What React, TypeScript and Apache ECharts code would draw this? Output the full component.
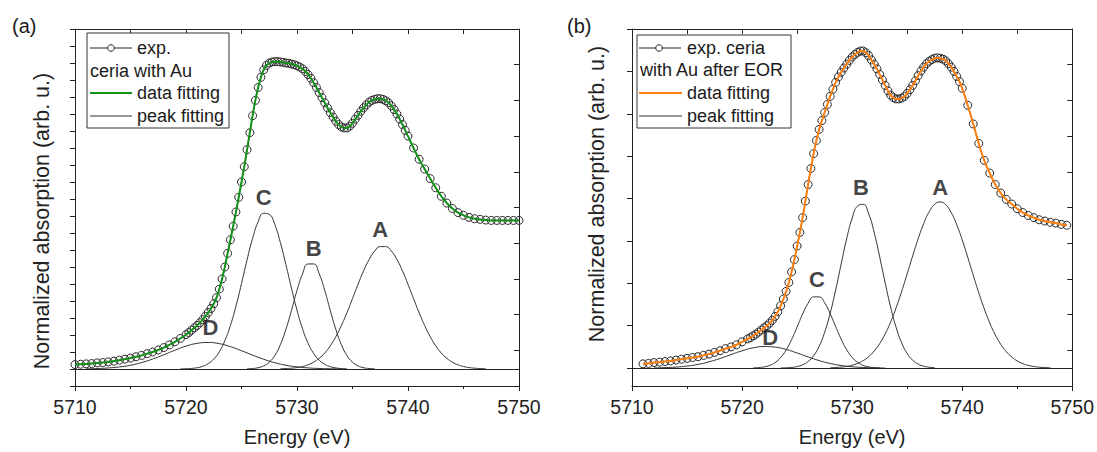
import React, { useEffect, useRef } from "react";
import * as echarts from "echarts";

// ---------- DATA (energy in eV, absorption in arbitrary units) ----------
const xTicksMajor = [5710, 5720, 5730, 5740, 5750];

// Panel (a): ceria with Au
const expA: [number, number][] = [
  [5710, 0.13], [5710.5, 0.14], [5711, 0.15], [5711.5, 0.16], [5712, 0.18], [5712.5, 0.19],
  [5713, 0.21], [5713.5, 0.23], [5714, 0.26], [5714.5, 0.29], [5715, 0.32], [5715.5, 0.36],
  [5716, 0.4], [5716.5, 0.45], [5717, 0.5], [5717.5, 0.56], [5718, 0.63], [5718.5, 0.71],
  [5719, 0.8], [5719.5, 0.9], [5720, 1.01], [5720.25, 1.07], [5720.5, 1.14], [5720.75, 1.21],
  [5721, 1.28], [5721.25, 1.36], [5721.5, 1.45], [5721.75, 1.55], [5722, 1.66], [5722.25, 1.78],
  [5722.5, 1.92], [5722.75, 2.1], [5723, 2.35], [5723.25, 2.65], [5723.5, 3.0], [5723.75, 3.4],
  [5724, 3.8], [5724.25, 4.2], [5724.5, 4.62], [5724.75, 5.05], [5725, 5.5], [5725.25, 5.95],
  [5725.5, 6.45], [5725.75, 6.95], [5726, 7.45], [5726.25, 7.9], [5726.5, 8.28], [5726.75, 8.58],
  [5727, 8.8], [5727.25, 8.93], [5727.5, 9.0], [5727.75, 9.03], [5728, 9.04], [5728.25, 9.04],
  [5728.5, 9.03], [5728.75, 9.02], [5729, 9.0], [5729.25, 8.99], [5729.5, 8.97], [5729.75, 8.95],
  [5730, 8.92], [5730.25, 8.88], [5730.5, 8.83], [5730.75, 8.75], [5731, 8.66], [5731.25, 8.55],
  [5731.5, 8.42], [5731.75, 8.28], [5732, 8.13], [5732.25, 7.98], [5732.5, 7.83], [5732.75, 7.68],
  [5733, 7.54], [5733.25, 7.41], [5733.5, 7.29], [5733.75, 7.19], [5734, 7.12], [5734.25, 7.09],
  [5734.5, 7.09], [5734.75, 7.14], [5735, 7.23], [5735.25, 7.35], [5735.5, 7.46], [5735.75, 7.58],
  [5736, 7.68], [5736.25, 7.77], [5736.5, 7.85], [5736.75, 7.9], [5737, 7.93], [5737.25, 7.95],
  [5737.5, 7.95], [5737.75, 7.93], [5738, 7.89], [5738.25, 7.83], [5738.5, 7.74], [5738.75, 7.63],
  [5739, 7.5], [5739.25, 7.35], [5739.5, 7.19], [5739.75, 7.02], [5740, 6.85], [5740.5, 6.5],
  [5741, 6.17], [5741.5, 5.88], [5742, 5.6], [5742.5, 5.33], [5743, 5.08], [5743.5, 4.88],
  [5744, 4.72], [5744.5, 4.6], [5745, 4.52], [5745.5, 4.46], [5746, 4.42], [5746.5, 4.4],
  [5747, 4.38], [5747.5, 4.37], [5748, 4.37], [5748.5, 4.37], [5749, 4.37], [5749.5, 4.37], [5750, 4.37],
];
const fitA = expA;
const peakDA: [number, number][] = [
  [5711, 0.006], [5712, 0.014], [5713, 0.031], [5714, 0.061], [5715, 0.112], [5716, 0.189],
  [5717, 0.293], [5718, 0.419], [5719, 0.553], [5720, 0.673], [5721, 0.754], [5722, 0.78],
  [5723, 0.745], [5724, 0.658], [5725, 0.538], [5726, 0.408], [5727, 0.286], [5728, 0.185],
  [5729, 0.111], [5730, 0.062], [5731, 0.032], [5732, 0.015], [5733, 0.007], [5734, 0.003],
];
const peakCA: [number, number][] = [
  [5719.5, 0.003], [5720, 0.007], [5720.5, 0.017], [5721, 0.038], [5721.5, 0.079], [5722, 0.157],
  [5722.5, 0.291], [5723, 0.507], [5723.5, 0.831], [5724, 1.279], [5724.5, 1.85], [5725, 2.51],
  [5725.5, 3.21], [5726, 3.84], [5726.5, 4.33], [5727, 4.58], [5727.5, 4.55], [5728, 4.25],
  [5728.5, 3.72], [5729, 3.07], [5729.5, 2.38], [5730, 1.73], [5730.5, 1.18], [5731, 0.757],
  [5731.5, 0.456], [5732, 0.258], [5732.5, 0.137], [5733, 0.069], [5733.5, 0.032], [5734, 0.014], [5734.5, 0.006],
];
const peakBA: [number, number][] = [
  [5725.5, 0.005], [5726, 0.014], [5726.5, 0.038], [5727, 0.092], [5727.5, 0.201], [5728, 0.398],
  [5728.5, 0.714], [5729, 1.164], [5729.5, 1.72], [5730, 2.31], [5730.5, 2.8], [5731, 3.09],
  [5731.5, 3.09], [5732, 2.8], [5732.5, 2.31], [5733, 1.72], [5733.5, 1.164], [5734, 0.714],
  [5734.5, 0.398], [5735, 0.201], [5735.5, 0.092], [5736, 0.038], [5736.5, 0.014], [5737, 0.005],
];
const peakAA: [number, number][] = [
  [5728.5, 0.006], [5729, 0.013], [5729.5, 0.024], [5730, 0.043], [5730.5, 0.074], [5731, 0.124],
  [5731.5, 0.201], [5732, 0.314], [5732.5, 0.471], [5733, 0.682], [5733.5, 0.952], [5734, 1.279],
  [5734.5, 1.658], [5735, 2.07], [5735.5, 2.49], [5736, 2.89], [5736.5, 3.22], [5737, 3.47],
  [5737.5, 3.6], [5738, 3.6], [5738.5, 3.47], [5739, 3.22], [5739.5, 2.89], [5740, 2.49],
  [5740.5, 2.07], [5741, 1.658], [5741.5, 1.279], [5742, 0.952], [5742.5, 0.682], [5743, 0.471],
  [5743.5, 0.314], [5744, 0.201], [5744.5, 0.124], [5745, 0.074], [5745.5, 0.043], [5746, 0.024],
  [5746.5, 0.013], [5747, 0.006],
];
const peakLabelsA: [number, number, string][] = [
  [5737.5, 4.1, "A"], [5731.5, 3.54, "B"], [5727.0, 5.03, "C"], [5722.2, 1.22, "D"],
];

// Panel (b): ceria with Au after EOR
const expB: [number, number][] = [
  [5711, 0.1], [5711.5, 0.11], [5712, 0.13], [5712.5, 0.14], [5713, 0.155], [5713.5, 0.17],
  [5714, 0.19], [5714.5, 0.21], [5715, 0.23], [5715.5, 0.25], [5716, 0.27], [5716.5, 0.3],
  [5717, 0.33], [5717.5, 0.37], [5718, 0.41], [5718.5, 0.46], [5719, 0.5], [5719.5, 0.55],
  [5720, 0.62], [5720.5, 0.69], [5720.75, 0.72], [5721, 0.76], [5721.25, 0.8], [5721.5, 0.85],
  [5721.75, 0.9], [5722, 0.95], [5722.25, 1.0], [5722.5, 1.06], [5722.75, 1.13], [5723, 1.22],
  [5723.25, 1.33], [5723.5, 1.47], [5723.75, 1.63], [5724, 1.81], [5724.25, 2.02], [5724.5, 2.27],
  [5724.75, 2.56], [5725, 2.88], [5725.25, 3.2], [5725.5, 3.55], [5725.75, 3.94], [5726, 4.33],
  [5726.25, 4.71], [5726.5, 5.06], [5726.75, 5.37], [5727, 5.63], [5727.25, 5.84], [5727.5, 6.03],
  [5727.75, 6.22], [5728, 6.41], [5728.25, 6.58], [5728.5, 6.74], [5728.75, 6.87], [5729, 6.98],
  [5729.25, 7.08], [5729.5, 7.17], [5729.75, 7.26], [5730, 7.34], [5730.25, 7.4], [5730.5, 7.45],
  [5730.75, 7.48], [5731, 7.48], [5731.25, 7.44], [5731.5, 7.37], [5731.75, 7.27], [5732, 7.17],
  [5732.25, 7.06], [5732.5, 6.93], [5732.75, 6.8], [5733, 6.67], [5733.25, 6.54], [5733.5, 6.44],
  [5733.75, 6.38], [5734, 6.35], [5734.25, 6.35], [5734.5, 6.37], [5734.75, 6.41], [5735, 6.48],
  [5735.25, 6.57], [5735.5, 6.67], [5735.75, 6.78], [5736, 6.9], [5736.25, 7.01], [5736.5, 7.1],
  [5736.75, 7.18], [5737, 7.24], [5737.25, 7.28], [5737.5, 7.31], [5737.75, 7.32], [5738, 7.31],
  [5738.25, 7.29], [5738.5, 7.25], [5738.75, 7.18], [5739, 7.1], [5739.25, 7.0], [5739.5, 6.88],
  [5739.75, 6.76], [5740, 6.6], [5740.5, 6.2], [5741, 5.76], [5741.5, 5.3], [5742, 4.9],
  [5742.5, 4.6], [5743, 4.33], [5743.5, 4.13], [5744, 3.98], [5744.5, 3.87], [5745, 3.76],
  [5745.5, 3.67], [5746, 3.6], [5746.5, 3.55], [5747, 3.5], [5747.5, 3.47], [5748, 3.44],
  [5748.5, 3.42], [5749, 3.39], [5749.5, 3.37],
];
const fitB = expB;
const peakDB: [number, number][] = [
  [5712, 0.004], [5713, 0.011], [5714, 0.023], [5715, 0.047], [5716, 0.087], [5717, 0.148],
  [5718, 0.227], [5719, 0.319], [5720, 0.408], [5721, 0.477], [5722, 0.509], [5723, 0.495],
  [5724, 0.44], [5725, 0.356], [5726, 0.263], [5727, 0.177], [5728, 0.109], [5729, 0.061],
  [5730, 0.031], [5731, 0.015], [5732, 0.006], [5733, 0.002],
];
const peakCB: [number, number][] = [
  [5721, 0.004], [5721.5, 0.011], [5722, 0.028], [5722.5, 0.063], [5723, 0.131], [5723.5, 0.247],
  [5724, 0.426], [5724.5, 0.673], [5725, 0.969], [5725.5, 1.275], [5726, 1.53], [5726.5, 1.68],
  [5727, 1.68], [5727.5, 1.54], [5728, 1.286], [5728.5, 0.981], [5729, 0.684], [5729.5, 0.435],
  [5730, 0.253], [5730.5, 0.134], [5731, 0.065], [5731.5, 0.029], [5732, 0.012], [5732.5, 0.004],
];
const peakBB: [number, number][] = [
  [5723.5, 0.002], [5724, 0.006], [5724.5, 0.015], [5725, 0.036], [5725.5, 0.077], [5726, 0.155],
  [5726.5, 0.293], [5727, 0.514], [5727.5, 0.843], [5728, 1.29], [5728.5, 1.842], [5729, 2.452],
  [5729.5, 3.05], [5730, 3.535], [5730.5, 3.825], [5731, 3.863], [5731.5, 3.64], [5732, 3.2],
  [5732.5, 2.624], [5733, 2.01], [5733.5, 1.435], [5734, 0.957], [5734.5, 0.595], [5735, 0.345],
  [5735.5, 0.187], [5736, 0.094], [5736.5, 0.045], [5737, 0.02], [5737.5, 0.008],
];
const peakAB: [number, number][] = [
  [5728, 0.007], [5728.5, 0.013], [5729, 0.023], [5729.5, 0.04], [5730, 0.068], [5730.5, 0.111],
  [5731, 0.175], [5731.5, 0.269], [5732, 0.401], [5732.5, 0.578], [5733, 0.806], [5733.5, 1.09],
  [5734, 1.427], [5734.5, 1.811], [5735, 2.225], [5735.5, 2.649], [5736, 3.053], [5736.5, 3.41],
  [5737, 3.688], [5737.5, 3.863], [5738, 3.92], [5738.5, 3.853], [5739, 3.668], [5739.5, 3.382],
  [5740, 3.022], [5740.5, 2.614], [5741, 2.19], [5741.5, 1.779], [5742, 1.4], [5742.5, 1.065],
  [5743, 0.785], [5743.5, 0.561], [5744, 0.389], [5744.5, 0.261], [5745, 0.169], [5745.5, 0.106],
  [5746, 0.065], [5746.5, 0.038], [5747, 0.022], [5747.5, 0.012], [5748, 0.007],
];
const peakLabelsB: [number, number, string][] = [
  [5738.0, 4.25, "A"], [5730.8, 4.27, "B"], [5726.8, 2.09, "C"], [5722.55, 0.72, "D"],
];
const leftTicksB = [0, 1, 2, 3, 4, 5, 6, 7, 8];

// ---------- STYLE ----------
const FONT = "Liberation Sans, Arial, sans-serif";
const INK = "#222";
const GREEN = "#13921a";
const ORANGE = "#ff7f0e";

type Panel = {
  grid: { left: number; top: number; width: number; height: number };
  yMin: number;
  yMax: number;
  yInterval?: number;
  yCustomTicks?: number[];
  exp: [number, number][];
  fit: [number, number][];
  fitColor: string;
  peaks: [number, number][][];
  labels: [number, number, string][];
};

const panels: Panel[] = [
  {
    grid: { left: 75, top: 29, width: 444, height: 359 },
    yMin: -0.5, yMax: 10, yInterval: 0.5,
    exp: expA, fit: fitA, fitColor: GREEN,
    peaks: [peakDA, peakCA, peakBA, peakAA], labels: peakLabelsA,
  },
  {
    grid: { left: 632, top: 29, width: 443, height: 359 },
    yMin: -0.4225, yMax: 8, yCustomTicks: leftTicksB,
    exp: expB, fit: fitB, fitColor: ORANGE,
    peaks: [peakDB, peakCB, peakBB, peakAB], labels: peakLabelsB,
  },
];

function buildOption() {
  const grid: any[] = [];
  const xAxis: any[] = [];
  const yAxis: any[] = [];
  const series: any[] = [];
  const lineStyle = { color: INK, width: 1 };

  panels.forEach((p, i) => {
    grid.push({ ...p.grid, containLabel: false });
    const xb = xAxis.length;
    xAxis.push({
      type: "value", gridIndex: i, position: "bottom", min: xTicksMajor[0], max: xTicksMajor[xTicksMajor.length - 1],
      interval: 10,
      axisLine: { show: true, onZero: false, lineStyle },
      axisTick: { show: true, inside: false, length: 5, lineStyle },
      minorTick: { show: true, splitNumber: 2, length: 3, lineStyle },
      axisLabel: {
        show: true, color: INK, fontSize: 19.5, fontFamily: FONT, margin: 11,
        formatter: (v: number) => String(v),
      },
      splitLine: { show: false },
      name: "Energy (eV)", nameLocation: "middle", nameGap: 41,
      nameTextStyle: { color: INK, fontSize: 20, fontFamily: FONT },
    });
    xAxis.push({
      type: "value", gridIndex: i, position: "top", min: 5710, max: 5750, interval: 5,
      axisLine: { show: true, onZero: false, lineStyle },
      axisTick: { show: true, inside: true, length: 5, lineStyle },
      axisLabel: { show: false }, splitLine: { show: false },
    });
    const yl = yAxis.length;
    const leftTick: any = { show: true, inside: false, length: 5, lineStyle };
    if (p.yCustomTicks) leftTick.customValues = p.yCustomTicks;
    yAxis.push({
      type: "value", gridIndex: i, position: "left", min: p.yMin, max: p.yMax,
      ...(p.yInterval ? { interval: p.yInterval } : {}),
      axisLine: { show: true, onZero: false, lineStyle },
      axisTick: leftTick,
      axisLabel: { show: false }, splitLine: { show: false },
    });
    yAxis.push({
      type: "value", gridIndex: i, position: "right", min: 0, max: 10, interval: 1,
      axisLine: { show: true, onZero: false, lineStyle },
      axisTick: { show: true, inside: true, length: 5, lineStyle },
      axisLabel: { show: false }, splitLine: { show: false },
    });

    // peaks
    p.peaks.forEach((pk, k) => {
      series.push({
        type: "line", xAxisIndex: xb, yAxisIndex: yl, data: pk, symbol: "none", smooth: true,
        lineStyle: { color: "#333", width: 1 }, z: 3, silent: true,
        ...(k === 0
          ? {
              markLine: {
                silent: true, symbol: ["none", "none"], label: { show: false },
                lineStyle: { color: INK, width: 1, type: "solid" },
                data: [{ yAxis: 0 }],
              },
            }
          : {}),
      });
    });
    // experimental
    series.push({
      type: "line", xAxisIndex: xb, yAxisIndex: yl, data: p.exp, smooth: true,
      symbol: "circle", symbolSize: 8, showSymbol: true, showAllSymbol: true,
      itemStyle: { color: "rgba(255,255,255,0)", borderColor: "#2a2a2a", borderWidth: 1 },
      lineStyle: { color: "#2a2a2a", width: 1 }, z: 4, silent: true,
    });
    // fit
    series.push({
      type: "line", xAxisIndex: xb, yAxisIndex: yl, data: p.fit, smooth: true, symbol: "none",
      lineStyle: { color: p.fitColor, width: 2 }, z: 5, silent: true,
    });
    // peak labels
    series.push({
      type: "scatter", xAxisIndex: xb, yAxisIndex: yl, data: p.labels, symbolSize: 1,
      itemStyle: { color: "rgba(0,0,0,0)" }, z: 6, silent: true,
      label: {
        show: true, position: "inside", formatter: (d: any) => d.data[2],
        fontSize: 22, fontWeight: "bold", color: "#111", fontFamily: FONT,
      },
    });
  });

  const txt = (x: number, y: number, text: string, size = 18, extra: any = {}) => ({
    type: "text", x, y, z: 20,
    style: {
      text, fill: "#1a1a1a", fontSize: size, fontFamily: FONT,
      verticalAlign: "middle", align: "left", ...extra,
    },
  });
  const line = (x1: number, x2: number, y: number, color: string, w: number) => ({
    type: "line", z: 20, shape: { x1, y1: y, x2, y2: y }, style: { stroke: color, lineWidth: w },
  });
  const ytitle = (x: number, y: number) => ({
    type: "text", x, y, rotation: Math.PI / 2, z: 20,
    style: {
      text: "Normalized absorption (arb. u.)", fill: INK, fontSize: 21.5, fontFamily: FONT,
      align: "center", verticalAlign: "middle",
    },
  });

  const graphic: any[] = [
    // panel letters
    txt(12, 26, "(a)", 20),
    txt(567, 26, "(b)", 20),
    // y titles
    ytitle(42, 221),
    ytitle(597, 194),
    // legend (a)
    { type: "rect", z: 19, shape: { x: 87, y: 33, width: 142, height: 95 }, style: { fill: "#fff", stroke: "#333", lineWidth: 1 } },
    line(90, 132, 48, INK, 1),
    { type: "circle", z: 21, shape: { cx: 111, cy: 48, r: 3.3 }, style: { fill: "#fff", stroke: INK, lineWidth: 1 } },
    txt(137, 48, "exp."),
    txt(90, 71, "ceria with Au"),
    line(90, 132, 93, GREEN, 2),
    txt(137, 93, "data fitting"),
    line(90, 132, 116, "#333", 1),
    txt(137, 116, "peak fitting"),
    // legend (b)
    { type: "rect", z: 19, shape: { x: 637, y: 35, width: 154, height: 93 }, style: { fill: "#fff", stroke: "#333", lineWidth: 1 } },
    line(639, 681, 48, INK, 1),
    { type: "circle", z: 21, shape: { cx: 659, cy: 48, r: 3.3 }, style: { fill: "#fff", stroke: INK, lineWidth: 1 } },
    txt(687, 48, "exp. ceria"),
    txt(640, 70, "with Au after EOR"),
    line(639, 682, 93, ORANGE, 2),
    txt(687, 93, "data fitting"),
    line(639, 682, 116, "#333", 1),
    txt(687, 116, "peak fitting"),
  ];

  return {
    animation: false,
    backgroundColor: "#ffffff",
    textStyle: { fontFamily: FONT },
    grid, xAxis, yAxis, series, graphic,
  };
}

export default function App() {
  const ref = useRef<HTMLDivElement>(null);
  useEffect(() => {
    if (!ref.current) return;
    const chart = echarts.init(ref.current, undefined, { renderer: "svg" });
    chart.setOption(buildOption() as any);
    return () => chart.dispose();
  }, []);
  return (
    <div
      ref={ref}
      style={{ position: "fixed", left: 0, top: 0, width: 1097, height: 452, background: "#fff" }}
    />
  );
}
